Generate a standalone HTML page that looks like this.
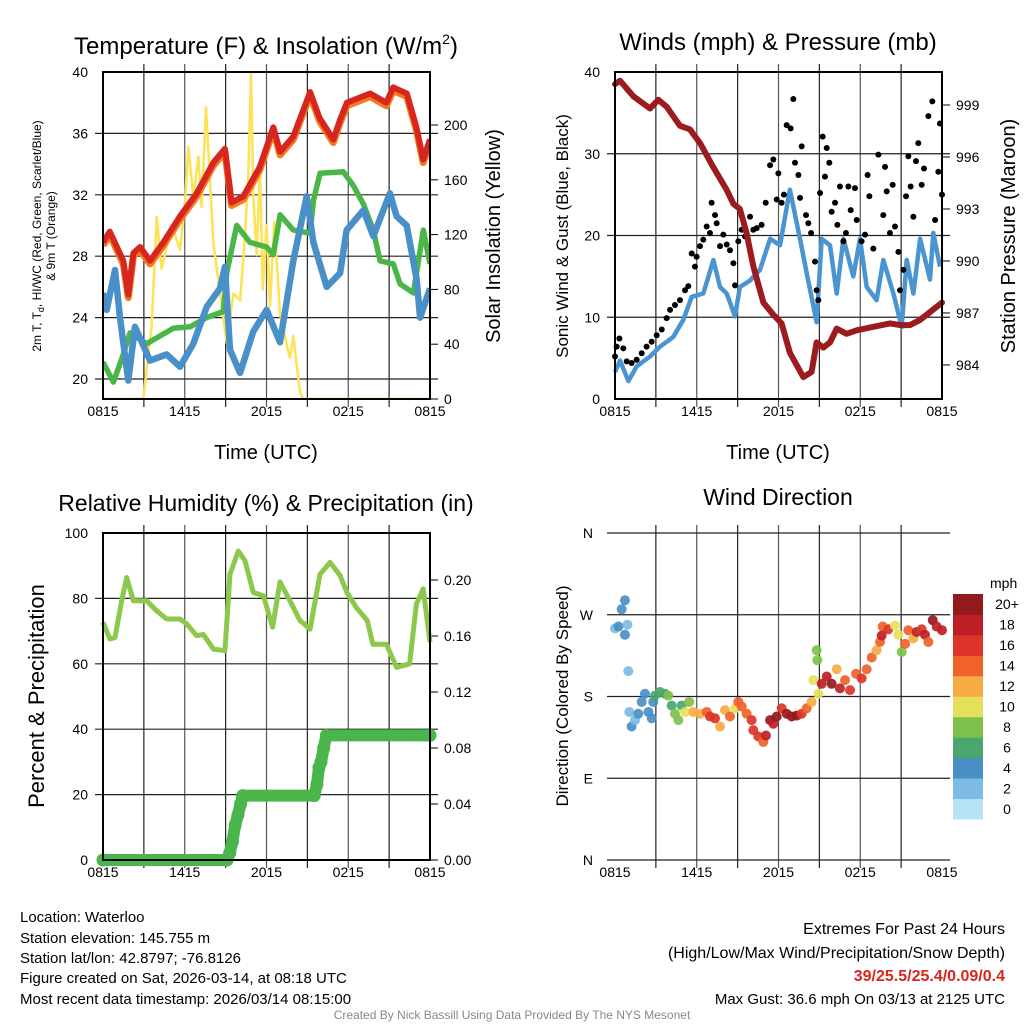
<!DOCTYPE html>
<html><head><meta charset="utf-8"><title>NYS Mesonet Waterloo</title>
<style>
html,body{margin:0;padding:0;background:#fff;}
svg{display:block;font-family:"Liberation Sans",Arial,sans-serif;}
</style></head>
<body>
<svg id="chart" width="1024" height="1024" viewBox="0 0 1024 1024" xmlns="http://www.w3.org/2000/svg">
<rect width="1024" height="1024" fill="#fff"/>
<text x="266" y="54" font-size="24" text-anchor="middle">Temperature (F) &amp; Insolation (W/m<tspan font-size="14" dy="-10">2</tspan><tspan dy="10">)</tspan></text>
<text x="778" y="50" font-size="24" text-anchor="middle">Winds (mph) &amp; Pressure (mb)</text>
<text x="266" y="511" font-size="23" text-anchor="middle">Relative Humidity (%) &amp; Precipitation (in)</text>
<text x="778" y="505" font-size="23" text-anchor="middle">Wind Direction</text>
<text x="266" y="459" font-size="20" text-anchor="middle">Time (UTC)</text>
<text x="778" y="459" font-size="20" text-anchor="middle">Time (UTC)</text>
<text transform="translate(41,236) rotate(-90)" font-size="12" text-anchor="middle">2m T, T<tspan font-size="9" dy="3">d</tspan><tspan dy="-3">, HI/WC (Red, Green, Scarlet/Blue)</tspan></text>
<text transform="translate(55,236) rotate(-90)" font-size="12" text-anchor="middle">&amp; 9m T (Orange)</text>
<text transform="translate(500,236) rotate(-90)" font-size="20" text-anchor="middle">Solar Insolation (Yellow)</text>
<text transform="translate(568,236) rotate(-90)" font-size="17" text-anchor="middle">Sonic Wind &amp; Gust (Blue, Black)</text>
<text transform="translate(1015,236) rotate(-90)" font-size="20" text-anchor="middle">Station Pressure (Maroon)</text>
<text transform="translate(44,696) rotate(-90)" font-size="22" text-anchor="middle">Percent &amp; Precipitation</text>
<text transform="translate(568,696) rotate(-90)" font-size="17" text-anchor="middle">Direction (Colored By Speed)</text>
<g font-size="15">
<text x="20" y="922">Location: Waterloo</text>
<text x="20" y="943">Station elevation: 145.755 m</text>
<text x="20" y="963">Station lat/lon: 42.8797; -76.8126</text>
<text x="20" y="983">Figure created on Sat, 2026-03-14, at 08:18 UTC</text>
<text x="20" y="1004">Most recent data timestamp: 2026/03/14 08:15:00</text>
</g>
<g font-size="16" text-anchor="end">
<text x="1005" y="934">Extremes For Past 24 Hours</text>
<text x="1005" y="958">(High/Low/Max Wind/Precipitation/Snow Depth)</text>
<text x="1005" y="981" fill="#d7261e" font-weight="bold">39/25.5/25.4/0.09/0.4</text>
<text x="1005" y="1004" font-size="15">Max Gust: 36.6 mph On 03/13 at 2125 UTC</text>
</g>
<text x="512" y="1019" font-size="12" fill="#888" text-anchor="middle">Created By Nick Bassill Using Data Provided By The NYS Mesonet</text>
<g id="layers"></g>
</svg>
<script>
const xTickLabels = ["0815","1415","2015","0215","0815"];
const tempTimes = [0,0.5,1.49,1.86,2.23,2.72,3.45,4.43,5.65,6.88,8.1,8.95,9.44,10.3,11.5,12.5,13.0,13.97,15.2,15.9,16.9,17.4,17.9,19.6,20.8,21.3,22.3,23.0,23.5,24];
const tempValues = [28.9,29.6,27.7,25.5,28.2,28.6,27.7,28.9,30.6,32.1,34.1,35.0,31.5,31.9,33.8,36.4,34.8,35.8,38.7,37.0,35.6,36.9,38.0,38.6,38.0,39.0,38.6,36.4,34.3,35.6];
const dewTimes = [0,0.76,1.49,1.98,3.2,5.16,6.39,7.61,8.83,9.08,9.81,10.79,12.01,12.5,13.0,13.97,15.19,15.44,15.93,17.64,18.37,19.11,19.84,20.33,21.31,21.8,22.78,23.51,24];
const dewValues = [21.1,19.8,21.6,23.0,22.3,23.3,23.4,24.0,24.4,26.9,30.0,28.9,28.6,28.1,30.7,29.7,29.5,31.6,33.4,33.5,32.6,31.4,29.7,27.7,27.5,26.2,25.6,29.7,27.5];
const chillTimes = [0,0.27,0.88,1.25,1.86,2.35,3.45,4.67,5.65,6.63,7.61,8.59,8.95,9.32,10.06,11.03,12.01,12.99,13.97,14.95,15.44,16.42,17.4,17.88,19.11,19.84,21.06,21.55,22.29,23.02,23.27,24];
const chillValues = [25.6,24.5,27.1,24.0,19.9,23.4,21.2,21.6,20.8,22.3,24.7,25.9,27.3,21.9,20.4,23.1,24.5,22.4,27.7,31.9,28.9,26.0,26.9,29.7,31.0,29.3,32.1,30.6,30.0,26.5,24.0,25.9];
const solarTimes = [0,2.96,3.57,3.94,4.3,5.04,5.65,6.02,6.26,6.63,7.0,7.24,7.56,8.1,8.59,9.08,9.57,10.06,10.42,10.67,10.86,11.03,11.28,11.52,11.72,12.01,12.26,12.57,12.99,13.48,13.72,13.97,14.46,14.7,24];
const solarValues = [0,0,53,133,95,127,109,143,184,148,177,140,213,114,77,41,77,72,118,167,238,148,105,170,80,127,68,129,62,40,30,46,5,0,0];
const tempTicks = [20,24,28,32,36,40];
const solarTicks = [0,40,80,120,160,200];

const windTimes = [0,0.37,0.98,1.59,2.57,3.3,4.28,5.02,5.63,6.48,7.22,7.71,8.2,8.81,9.17,9.91,10.64,11.38,12.11,12.84,13.58,14.07,14.8,15.17,15.78,16.27,16.76,17.49,17.98,18.47,19.2,19.69,20.43,21.04,21.41,21.9,22.39,23.12,23.36,23.85];
const windValues = [3.3,4.7,2.2,4.0,5.2,6.4,7.6,9.7,12.5,12.9,17.0,13.7,12.9,10.1,13.7,14.5,15.8,19.6,18.8,25.6,19.6,15.4,9.4,19.6,18.8,12.9,19.6,15.0,19.6,13.7,12.1,17.0,12.9,8.8,17.0,12.9,19.6,14.6,20.3,16.2];
const gustTimes = [0,0.12,0.32,0.61,0.86,1.22,1.59,1.96,2.32,2.69,3.06,3.43,3.79,4.04,4.4,4.77,5.14,5.38,5.63,5.87,5.99,6.24,6.48,6.73,6.97,7.09,7.34,7.46,7.71,7.95,8.2,8.44,8.69,8.81,9.05,9.3,9.54,9.91,10.15,10.4,10.76,11.06,11.38,11.62,11.87,11.99,12.23,12.4,12.6,12.89,13.09,13.21,13.46,13.58,13.7,14.02,14.19,14.39,14.68,14.8,14.92,15.05,15.24,15.41,15.54,15.73,15.9,16.15,16.32,16.51,16.76,16.95,17.13,17.3,17.61,17.74,18.1,18.35,18.54,18.67,18.96,19.33,19.69,19.82,19.94,20.18,20.38,20.55,20.8,20.92,21.16,21.36,21.53,21.7,21.9,22.09,22.26,22.51,22.68,23.0,23.29,23.49,23.73,23.85,24];
const gustValues = [5.2,6.4,7.4,6.2,4.6,4.4,4.8,5.6,6.4,7.0,7.8,8.5,9.9,10.9,11.5,12.1,13.3,13.8,17.8,16.2,17.4,18.7,19.5,21.1,20.3,24.0,22.5,21.5,18.7,20.1,18.9,18.2,16.6,13.9,19.3,20.7,19.9,22.3,20.7,20.9,21.3,24.0,28.6,29.3,24.4,27.6,24.0,25.0,33.5,33.1,36.7,28.9,27.4,24.6,30.9,22.5,21.5,20.3,16.8,13.3,12.1,25.2,32.1,27.2,30.7,28.9,22.9,24.0,21.3,26.0,19.3,20.3,26.0,23.1,25.8,21.9,19.3,20.1,27.4,24.8,18.4,29.9,22.5,28.4,25.4,20.3,26.2,21.1,18.0,13.3,15.8,24.8,29.7,26.0,22.3,29.1,31.3,26.2,28.2,34.6,36.4,21.9,27.8,33.7,25.0];
const pressTimes = [0,0.37,1.35,2.57,3.18,3.79,4.77,5.5,6.24,7.22,8.2,8.69,9.17,9.66,10.15,10.89,11.62,12.23,12.84,13.82,14.43,14.8,15.29,15.78,16.27,17.0,17.74,18.96,20.18,20.92,21.65,22.39,23.36,24];
const pressValues = [1000.2,1000.4,999.5,998.8,999.3,998.9,997.8,997.6,996.8,995.4,994.1,993.3,993.0,991.6,989.7,987.6,986.9,986.4,984.7,983.3,983.6,985.3,985.0,985.3,986.1,985.8,986.0,986.2,986.4,986.3,986.3,986.6,987.2,987.6];
const windTicks = [0,10,20,30,40];
const pressTicks = [984,987,990,993,996,999];

const rhTimes = [0,0.51,0.88,1.37,1.74,2.23,3.2,3.94,4.67,5.65,6.14,6.88,7.36,8.1,8.95,9.32,9.93,10.42,11.03,11.77,12.45,12.99,13.72,14.46,15.2,15.93,16.67,17.4,17.9,18.6,19.4,19.8,20.8,21.55,22.5,23.0,23.5,24];
const rhValues = [72.7,67.6,68,79.3,86.4,79.3,79.3,76.2,73.7,73.7,72.2,68.6,69,64.5,64,87.4,94.5,91.5,81.8,80.8,71.2,85,79.3,73.2,70.6,87.4,91,87,81.8,77.2,73.2,66,66,58.9,60,78.3,82.9,66.6];
const precipTimes = [0,9.1,9.3,9.5,9.7,9.9,10.1,10.25,15.5,15.7,15.85,16.0,16.2,16.4,24];
const precipValues = [0,0,0.005,0.013,0.025,0.032,0.04,0.046,0.046,0.054,0.066,0.07,0.08,0.089,0.089];
const rhTicks = [0,20,40,60,80,100];
const precipTicks = ["0.00","0.04","0.08","0.12","0.16","0.20"];

const dirTimes = [0,0.25,0.49,0.73,0.73,0.91,0.98,1.05,1.22,1.47,1.71,1.96,2.2,2.45,2.69,2.81,2.94,3.3,3.67,3.91,4.16,4.4,4.65,4.89,5.14,5.45,5.75,6.24,6.73,6.97,7.34,7.71,8.07,8.44,8.81,9.05,9.3,9.66,10.03,10.15,10.52,10.89,11.08,11.38,11.62,11.87,12.23,12.6,12.97,13.33,13.7,14.07,14.43,14.56,14.8,14.85,14.92,15.17,15.54,15.9,16.27,16.51,16.88,17.25,17.69,18.1,18.47,18.84,19.2,19.45,19.65,19.57,20.06,20.55,20.8,21.04,21.29,21.53,21.9,22.14,22.51,22.75,23.0,23.32,23.61,24];
const dirValues = [255,257,276,286,248,259,208,163,147,154,161,174,183,163,156,174,181,185,183,181,170,161,154,170,163,174,163,161,163,158,156,147,165,158,167,174,169,161,154,143,136,130,137,154,150,158,167,161,158,159,161,167,174,198,231,220,183,194,202,194,210,189,198,187,205,200,210,223,231,240,257,247,254,258,248,229,238,253,244,251,254,248,240,264,257,253];
const dirSpeeds = [3,4,4,4,4,2,2,2,4,2,4,4,4,4,4,4,6,6,6,8,6,8,8,6,10,8,12,12,14,16,16,12,12,14,10,14,14,14,16,16,16,14,18,20,18,20,16,20,20,20,16,14,12,10,8,8,10,18,18,20,12,18,14,16,14,16,14,14,12,14,14,18,16,10,10,8,14,14,12,18,16,18,14,20,18,18];
const dirTicks = ["N","E","S","W","N"];
const speedBins = ["0","2","4","6","8","10","12","14","16","18","20+"];
const speedColors = ["#b7e3f7","#7cbbe4","#4a8fc6","#4aa66f","#7ec14a","#e6df5a","#f6ab44","#ef6229","#dc3428","#be1e24","#92191c"];

const NS = "http://www.w3.org/2000/svg";
const root = document.getElementById("layers");
function mk(tag, parent, attrs) {
  const e = document.createElementNS(NS, tag);
  for (const k in attrs) e.setAttribute(k, attrs[k]);
  parent.appendChild(e);
  return e;
}
function group(parent, name) {
  const g = document.createElementNS(NS, "g");
  
  
  parent.appendChild(g);
  return g;
}
function linePath(times, vals, xf, yf) {
  return times.map((t, i) => (i ? "L" : "M") + xf(t).toFixed(1) + "," + yf(vals[i]).toFixed(1)).join("");
}
function frame(P, name, leftTicks, leftY, rightTicks, rightY, gridH) {
  const g = group(root, name);
  const xs = h => P.x0 + h / 24 * (P.x1 - P.x0);
  for (let h = 3; h < 24; h += 3) {
    const gl = mk("line", g, {x1: xs(h), x2: xs(h), y1: P.y0 - 8, y2: P.y1 + 8, stroke: h % 6 ? "#222" : "#555", "stroke-width": 1.2});
    
    
  }
  gridH.forEach(y => {
    const hl = mk("line", g, {x1: P.x0 - 8, x2: P.x1 + 8, y1: y, y2: y, stroke: "#222", "stroke-width": 1.2});
    
    
  });
  xTickLabels.forEach((lab, i) => {
    const t = mk("text", g, {x: xs(i * 6), y: P.y1 + 17, "font-size": 14, "text-anchor": "middle"});
    t.textContent = lab;
    
    
  });
  leftTicks.forEach(v => {
    const t = mk("text", g, {x: P.x0 - 15, y: leftY(v) + 5, "font-size": 14, "text-anchor": "end"});
    t.textContent = v;
    
    
  });
  if (rightTicks) rightTicks.forEach(v => {
    const t = mk("text", g, {x: P.x1 + 14, y: rightY(v) + 5, "font-size": 14});
    t.textContent = v;
    
    
    mk("line", g, {x1: P.x1, x2: P.x1 + 8, y1: rightY(v), y2: rightY(v), stroke: "#000", "stroke-width": 1});
  });
  return {g, xs};
}
function border(P, g) {
  mk("rect", g, {x: P.x0, y: P.y0, width: P.x1 - P.x0, height: P.y1 - P.y0, fill: "none", stroke: "#000", "stroke-width": 2});
}

{
  const P = {x0: 103, x1: 430, y0: 72, y1: 399};
  const yL = v => 72 + (40 - v) * 15.35;
  const yR = v => 399 - v * 1.37;
  const f = frame(P, "temperature-panel", tempTicks, yL, solarTicks, yR, tempTicks.filter(v => v < 40).map(yL));
  const xs = f.xs;
  const clip = mk("clipPath", f.g, {id: "c1"});
  mk("rect", clip, {x: P.x0, y: P.y0, width: P.x1 - P.x0, height: P.y1 - P.y0});
  const s = group(f.g, "temperature-series");
  s.setAttribute("clip-path", "url(#c1)");
  const so = mk("path", s, {d: linePath(solarTimes, solarValues, xs, yR), fill: "none", stroke: "#fde35a", "stroke-width": 2.6, "stroke-linejoin": "round"});
  
  
  const gr = mk("path", s, {d: linePath(dewTimes, dewValues, xs, yL), fill: "none", stroke: "#4bb648", "stroke-width": 5.5, "stroke-linejoin": "round"});
  
  
  const bl = mk("path", s, {d: linePath(chillTimes, chillValues, xs, yL), fill: "none", stroke: "#4a90c8", "stroke-width": 6.5, "stroke-linejoin": "round"});
  
  
  const or = mk("path", s, {d: linePath(tempTimes, tempValues.map(v => v - 0.2), xs, yL), fill: "none", stroke: "#f47a20", "stroke-width": 7, "stroke-linejoin": "round"});
  
  
  const rd = mk("path", s, {d: linePath(tempTimes, tempValues, xs, yL), fill: "none", stroke: "#d7261e", "stroke-width": 6, "stroke-linejoin": "round"});
  
  
  border(P, f.g);
}

{
  const P = {x0: 615, x1: 942, y0: 72, y1: 399};
  const yW = v => 399 - v * 8.175;
  const yP = v => 105 + (999 - v) * 17.33;
  const f = frame(P, "winds-panel", windTicks, yW, pressTicks, yP, [10, 20, 30].map(yW));
  const xs = f.xs;
  const s = group(f.g, "wind-series");
  const bl = mk("path", s, {d: linePath(windTimes, windValues, xs, yW), fill: "none", stroke: "#4a94d0", "stroke-width": 4.5, "stroke-linejoin": "round"});
  
  
  gustTimes.forEach((t, i) => {
    const c = mk("circle", s, {cx: xs(t), cy: yW(gustValues[i]), r: 3, fill: "#000"});
    
    
  });
  const pr = mk("path", s, {d: linePath(pressTimes, pressValues, xs, yP), fill: "none", stroke: "#9b1b1e", "stroke-width": 6, "stroke-linejoin": "round", "stroke-linecap": "round"});
  
  
  border(P, f.g);
}

{
  const P = {x0: 103, x1: 430, y0: 533, y1: 860};
  const yH = v => 860 - v * 3.27;
  const yPr = v => 860 - v * 1400;
  const f = frame(P, "humidity-panel", rhTicks, yH, precipTicks, v => yPr(parseFloat(v)), [20, 40, 60, 80].map(yH));
  const xs = f.xs;
  const s = group(f.g, "humidity-series");
  const rh = mk("path", s, {d: linePath(rhTimes, rhValues, xs, yH), fill: "none", stroke: "#8cc84b", "stroke-width": 5, "stroke-linejoin": "round"});
  
  
  const pc = mk("path", s, {d: linePath(precipTimes, precipValues, xs, yPr), fill: "none", stroke: "#4ab54a", "stroke-width": 12, "stroke-linejoin": "round", "stroke-linecap": "round"});
  
  
  precipTimes.forEach((t, i) => {
    const c = mk("circle", s, {cx: xs(t), cy: yPr(precipValues[i]), r: 6.5, fill: "#4ab54a"});
    
    
  });
  border(P, f.g);
}

{
  const P = {x0: 615, x1: 942, y0: 533, y1: 860};
  const yD = d => 860 - d * 327 / 360;
  const f = frame(P, "wind-direction-panel", [], yD, null, null, [0, 90, 180, 270, 360].map(yD));
  const xs = f.xs;
  dirTicks.forEach((lab, i) => {
    const t = mk("text", f.g, {x: P.x0 - 22, y: yD(i * 90) + 5, "font-size": 14, "text-anchor": "end"});
    t.textContent = lab;
    
    
  });
  const s = group(f.g, "wind-direction-points");
  dirTimes.forEach((t, i) => {
    const bin = Math.min(10, Math.floor(dirSpeeds[i] / 2));
    const c = mk("circle", s, {cx: xs(t), cy: yD(dirValues[i]), r: 5, fill: speedColors[bin], "fill-opacity": 0.92});
    
    
  });
  const cb = group(root, "speed-colorbar");
  const mt = mk("text", cb, {x: 990, y: 588, "font-size": 14});
  mt.textContent = "mph";
  const bh = 225 / 11;
  speedBins.forEach((lab, i) => {
    const k = 10 - i;
    const y = 594 + k * bh;
    const r = mk("rect", cb, {x: 953, y: y, width: 30, height: bh + 0.5, fill: speedColors[i]});
    
    
    const t = mk("text", cb, {x: 1007, y: y + bh / 2 + 5, "font-size": 14, "text-anchor": "middle"});
    t.textContent = lab;
    
    
  });
}
</script>
</body></html>
